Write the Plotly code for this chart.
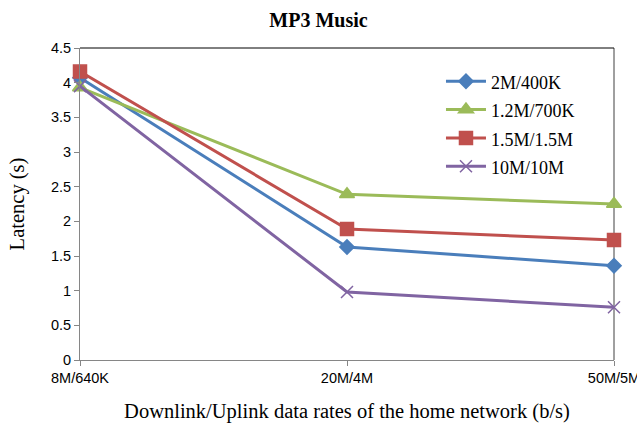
import plotly.graph_objects as go

categories = ["8M/640K", "20M/4M", "50M/5M"]
series_names = ["2M/400K", "1.2M/700K", "1.5M/1.5M", "10M/10M"]
latency_2m_400k = [4.07, 1.63, 1.36]
latency_1_2m_700k = [3.93, 2.39, 2.25]
latency_1_5m_1_5m = [4.16, 1.89, 1.73]
latency_10m_10m = [3.95, 0.98, 0.76]

series_values = [latency_2m_400k, latency_1_2m_700k, latency_1_5m_1_5m, latency_10m_10m]
colors = ["#4a7ebb", "#9bbb59", "#c0504d", "#8064a2"]
symbols = ["diamond", "triangle-up", "square", "x-thin"]
sizes = [11, 13, 13, 12]

x_pos = list(range(len(categories)))

fig = go.Figure()
for name, vals, col, sym, sz in zip(series_names, series_values, colors, symbols, sizes):
    fig.add_trace(go.Scatter(
        x=x_pos, y=vals, mode="lines+markers",
        name=f"<span style='font-size:18px'>{name}</span>",
        line=dict(color=col, width=3),
        marker=dict(symbol=sym, size=sz, color=col,
                    line=dict(color=col, width=1.5)),
        cliponaxis=False,
    ))

serif = "Liberation Serif, Times New Roman, serif"
sans = "Liberation Sans, Arial, sans-serif"

fig.update_layout(
    width=637, height=427,
    margin=dict(l=80, r=23, t=48, b=67),
    paper_bgcolor="white", plot_bgcolor="white",
    title=dict(text="<b>MP3 Music</b>", x=0.5, xanchor="center", y=0.952, yanchor="middle",
               font=dict(family=serif, size=20, color="black")),
    showlegend=True,
    legend=dict(x=0.676, y=0.955, xanchor="left", yanchor="top",
                font=dict(family=serif, size=19.5, color="black"),
                bgcolor="rgba(0,0,0,0)", tracegroupgap=0, itemwidth=40),
    xaxis=dict(
        range=[0, 2], tickmode="array", tickvals=x_pos, ticktext=categories,
        showgrid=False, zeroline=False, showline=True, linecolor="#868686", linewidth=1,
        ticks="outside", ticklen=5, tickcolor="#868686",
        tickfont=dict(family=sans, size=14.5, color="black"),
        ticklabeloverflow="allow",
        title=dict(text="Downlink/Uplink data rates of the home network (b/s)",
                   font=dict(family=serif, size=20.5, color="black"), standoff=18),
        automargin=False,
    ),
    yaxis=dict(
        range=[0, 4.5], dtick=0.5,
        showgrid=False, zeroline=False, showline=True, linecolor="#868686", linewidth=1,
        ticks="outside", ticklen=5, tickcolor="#868686",
        tickfont=dict(family=sans, size=14.5, color="black"),
        title=dict(text="Latency (s)", font=dict(family=serif, size=20.5, color="black"),
                   standoff=20),
        automargin=False,
    ),
)

# Plot-area outline: black top edge and dark right edge
fig.add_shape(type="line", xref="paper", yref="paper", x0=0, x1=1, y0=1, y1=1,
              line=dict(color="black", width=1))
fig.add_shape(type="line", xref="paper", yref="paper", x0=1, x1=1, y0=0, y1=1,
              line=dict(color="#404040", width=1), layer="below")

fig.write_html("out.html")
